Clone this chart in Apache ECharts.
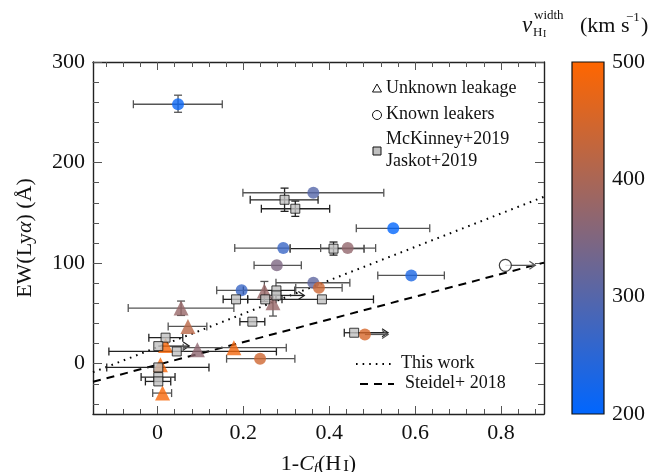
<!DOCTYPE html>
<html>
<head>
<meta charset="utf-8">
<script src="https://cdn.jsdelivr.net/npm/echarts@6/dist/echarts.min.js"></script>
<style>
html,body{margin:0;padding:0;background:#fff;}
#c{width:656px;height:472px;}
</style>
</head>
<body>
<div id="c"></div>
<script>
// ---------- axis ticks ----------
const xMajor = [0, 0.2, 0.4, 0.6, 0.8];
const xMinor = [-0.12,-0.08,-0.04,0.04,0.08,0.12,0.16,0.24,0.28,0.32,0.36,0.44,0.48,0.52,0.56,0.64,0.68,0.72,0.76,0.84,0.88];
const yMajor = [0, 100, 200, 300];
const yMinor = [-40,-20,20,40,60,80,120,140,160,180,220,240,260,280];
const cbarTicks = [200, 300, 400, 500];

// ---------- circles (filled, coloured by v_HI width) ----------
const circX  = [0.048, 0.363, 0.549, 0.293, 0.443, 0.278, 0.591, 0.363, 0.376, 0.196, 0.483, 0.239];
const circY  = [258, 170, 134.6, 115, 115, 97.8, 87.8, 80.5, 75.6, 73, 29.1, 5];
const circV  = [212, 300, 203, 268, 372, 347, 232, 312, 440, 268, 452, 442];
const circXlo = [-0.056, 0.199, 0.463, 0.18, 0.38, 0.225, 0.513, 0.276, 0.322, 0.138, null, 0.161];
const circXhi = [0.151, 0.527, 0.634, 0.309, 0.508, 0.335, 0.668, 0.448, 0.43, 0.25, null, 0.32];
const circYlo = [250, null, null, null, null, null, null, null, null, null, null, null];
const circYhi = [267, null, null, null, null, null, null, null, null, null, null, null];
const circArrow = [null, null, null, null, null, null, null, null, null, null, 0.537, null];

// ---------- triangles (unknown leakage) ----------
const triX  = [0.055, 0.071, 0.093, 0.178, 0.249, 0.269, 0.007, 0.012, 0.019];
const triY  = [55.3, 37.1, 13.9, 15.9, 72.2, 60.7, -1, -29.2, 18.2];
const triV  = [378, 418, 368, 485, 380, 378, 490, 490, 490];
const triXlo = [-0.068, 0.025, null, 0.06, null, null, null, -0.011, null];
const triXhi = [0.178, 0.115, null, 0.30, null, null, null, 0.033, null];
const triYlo = [48, null, null, null, 62, 47.4, null, null, null];
const triYhi = [62.3, null, null, null, 81.8, 68, null, null, null];
const triArrow = [null, null, null, null, null, null, null, null, null];

// ---------- squares (McKinney+2019 / Jaskot+2019) ----------
const sqX  = [0.296, 0.321, 0.41, 0.183, 0.251, 0.277, 0.277, 0.383, 0.221, 0.019, 0.002, 0.045, 0.002, 0.002, 0.002, 0.458];
const sqY  = [163, 154.1, 114.4, 64, 64, 72.9, 67.9, 64, 41.8, 25.9, 17.5, 12.2, -3.7, -13.3, -17.6, 30.8];
const sqXlo = [0.216, 0.242, 0.309, 0.153, 0.21, 0.2, null, 0.276, 0.192, -0.02, null, -0.113, -0.118, -0.038, -0.028, 0.435];
const sqXhi = [0.374, 0.401, 0.481, 0.21, 0.29, 0.32, null, 0.503, 0.25, 0.059, null, 0.277, 0.12, 0.041, 0.031, null];
const sqYlo = [151.5, 146.5, 108, null, null, null, null, null, null, null, null, null, null, null, null, null];
const sqYhi = [174.6, 161.7, 121, null, null, null, null, null, null, null, null, null, null, null, null, null];
const sqArrow = [null, null, null, null, null, null, 0.342, null, null, null, 0.074, null, null, null, null, 0.537];

// ---------- known leaker (open circle) ----------
const leakX = [0.81];
const leakY = [97.8];
const leakArrow = [0.88];

// ---------- relations ----------
const relX = [-0.15, 0.9];
const thisWorkY = [-8.5, 166];
const steidelY = [-18, 100.5];

const SERIF = '"Liberation Serif","DejaVu Serif",serif';
const cLow = '#0066ff', cHigh = '#ff6600';

function errRenderer(xs, ys, xlo, xhi, ylo, yhi, arr, color) {
  return function (params, api) {
    const i = params.dataIndex;
    const ch = [];
    const st = { stroke: color, lineWidth: 1.3 };
    const cap = 4;
    if (xlo[i] != null && xhi[i] != null) {
      const a = api.coord([xlo[i], ys[i]]), b = api.coord([xhi[i], ys[i]]);
      ch.push({ type: 'line', shape: { x1: a[0], y1: a[1], x2: b[0], y2: b[1] }, style: st });
      ch.push({ type: 'line', shape: { x1: a[0], y1: a[1] - cap, x2: a[0], y2: a[1] + cap }, style: st });
      ch.push({ type: 'line', shape: { x1: b[0], y1: b[1] - cap, x2: b[0], y2: b[1] + cap }, style: st });
    } else if (xlo[i] != null) {
      const a = api.coord([xlo[i], ys[i]]), p = api.coord([xs[i], ys[i]]);
      ch.push({ type: 'line', shape: { x1: a[0], y1: a[1], x2: p[0], y2: p[1] }, style: st });
      ch.push({ type: 'line', shape: { x1: a[0], y1: a[1] - cap, x2: a[0], y2: a[1] + cap }, style: st });
    }
    if (ylo[i] != null && yhi[i] != null) {
      const a = api.coord([xs[i], ylo[i]]), b = api.coord([xs[i], yhi[i]]);
      ch.push({ type: 'line', shape: { x1: a[0], y1: a[1], x2: b[0], y2: b[1] }, style: st });
      ch.push({ type: 'line', shape: { x1: a[0] - cap, y1: a[1], x2: a[0] + cap, y2: a[1] }, style: st });
      ch.push({ type: 'line', shape: { x1: b[0] - cap, y1: b[1], x2: b[0] + cap, y2: b[1] }, style: st });
    }
    if (arr[i] != null) {
      const p = api.coord([xs[i], ys[i]]), e = api.coord([arr[i], ys[i]]);
      ch.push({ type: 'line', shape: { x1: p[0], y1: p[1], x2: e[0], y2: e[1] }, style: st });
      ch.push({ type: 'polyline', shape: { points: [[e[0] - 6, e[1] - 4], [e[0], e[1]], [e[0] - 6, e[1] + 4]] }, style: { stroke: color, lineWidth: 1.2, fill: null } });
    }
    return { type: 'group', children: ch };
  };
}

function pts(xs, ys, extra) {
  return xs.map((x, i) => extra ? [x, ys[i], extra[i]] : [x, ys[i]]);
}

const tickStyle = { color: '#555', width: 1 };
const boxLine = { show: true, onZero: false, lineStyle: { color: '#222', width: 1.4 } };
const noLine = { show: false, onZero: false };

const chart = echarts.init(document.getElementById('c'), null, { renderer: 'canvas' });

const option = {
  animation: false,
  backgroundColor: '#fff',
  grid: [
    { left: 93, top: 62, width: 451, height: 352, containLabel: false, outerBoundsMode: 'none' },
    { left: 572, top: 62, width: 32, height: 352, containLabel: false, outerBoundsMode: 'none' }
  ],
  xAxis: [
    { type: 'value', gridIndex: 0, min: -0.15, max: 0.9, position: 'bottom',
      axisLine: boxLine, splitLine: { show: false },
      axisTick: { inside: true, length: 8, customValues: xMajor, lineStyle: tickStyle },
      axisLabel: { customValues: xMajor, fontFamily: SERIF, fontSize: 22, color: '#111', margin: 8,
                   formatter: v => String(v) },
      name: '{n|1-}{i|C}{sub|f}{n|(H}{sc|I}{n|)}', nameLocation: 'middle', nameGap: 35,
      nameTextStyle: { rich: {
        n: { fontFamily: SERIF, fontSize: 22, color: '#111', verticalAlign: 'top', lineHeight: 24 },
        i: { fontFamily: SERIF, fontSize: 22, color: '#111', fontStyle: 'italic', verticalAlign: 'top', lineHeight: 24 },
        sub: { fontFamily: SERIF, fontSize: 15, color: '#111', fontStyle: 'italic', verticalAlign: 'bottom', lineHeight: 15, padding: [13, 0, 0, 0] },
        sc: { fontFamily: SERIF, fontSize: 17, color: '#111', verticalAlign: 'top', lineHeight: 17, padding: [5, 0, 0, 2] }
      } } },
    { type: 'value', gridIndex: 0, min: -0.15, max: 0.9, position: 'bottom',
      axisLine: noLine, splitLine: { show: false }, axisLabel: { show: false },
      axisTick: { inside: true, length: 5, customValues: xMinor, lineStyle: tickStyle } },
    { type: 'value', gridIndex: 0, min: -0.15, max: 0.9, position: 'top',
      axisLine: boxLine, splitLine: { show: false }, axisLabel: { show: false },
      axisTick: { inside: true, length: 8, customValues: xMajor, lineStyle: tickStyle } },
    { type: 'value', gridIndex: 0, min: -0.15, max: 0.9, position: 'top',
      axisLine: noLine, splitLine: { show: false }, axisLabel: { show: false },
      axisTick: { inside: true, length: 5, customValues: xMinor, lineStyle: tickStyle } },
    { type: 'value', gridIndex: 1, min: 0, max: 1, show: false, axisLine: noLine }
  ],
  yAxis: [
    { type: 'value', gridIndex: 0, min: -50, max: 300, position: 'left',
      axisLine: boxLine, splitLine: { show: false },
      axisTick: { inside: true, length: 9, customValues: yMajor, lineStyle: tickStyle },
      axisLabel: { customValues: yMajor, fontFamily: SERIF, fontSize: 22, color: '#111', margin: 8 },
      name: '{n|EW(Ly}{i|α}{n|) (Å)}', nameLocation: 'middle', nameGap: 57,
      nameTextStyle: { rich: {
        n: { fontFamily: SERIF, fontSize: 22, color: '#111' },
        i: { fontFamily: SERIF, fontSize: 22, color: '#111', fontStyle: 'italic' }
      } } },
    { type: 'value', gridIndex: 0, min: -50, max: 300, position: 'left',
      axisLine: noLine, splitLine: { show: false }, axisLabel: { show: false },
      axisTick: { inside: true, length: 6, customValues: yMinor, lineStyle: tickStyle } },
    { type: 'value', gridIndex: 0, min: -50, max: 300, position: 'right',
      axisLine: boxLine, splitLine: { show: false }, axisLabel: { show: false },
      axisTick: { inside: true, length: 9, customValues: yMajor, lineStyle: tickStyle } },
    { type: 'value', gridIndex: 0, min: -50, max: 300, position: 'right',
      axisLine: noLine, splitLine: { show: false }, axisLabel: { show: false },
      axisTick: { inside: true, length: 6, customValues: yMinor, lineStyle: tickStyle } },
    { type: 'value', gridIndex: 1, min: 200, max: 500, interval: 100, position: 'right',
      axisLine: noLine, splitLine: { show: false },
      axisTick: { show: false },
      axisLabel: { customValues: cbarTicks, fontFamily: SERIF, fontSize: 22, color: '#111', margin: 8 } },
    { type: 'value', gridIndex: 1, min: 200, max: 500, position: 'left',
      axisLine: noLine, splitLine: { show: false }, axisLabel: { show: false },
      axisTick: { inside: true, length: 22, customValues: [300, 400], lineStyle: { color: '#999', width: 1, type: [9, 5] } } }
  ],
  visualMap: [{
    type: 'continuous', show: false, min: 200, max: 500, dimension: 2,
    seriesIndex: [6, 7], inRange: { color: [cLow, cHigh] }
  }],
  series: [
    // 0: This work (dotted)
    { type: 'line', xAxisIndex: 0, yAxisIndex: 0, data: pts(relX, thisWorkY), symbol: 'none',
      lineStyle: { color: '#000', width: 2, type: [1.6, 5] }, silent: true, z: 1 },
    // 1: Steidel+2018 (dashed)
    { type: 'line', xAxisIndex: 0, yAxisIndex: 0, data: pts(relX, steidelY), symbol: 'none',
      lineStyle: { color: '#000', width: 2, type: [8, 6] }, silent: true, z: 1 },
    // 2-5: error bars
    { type: 'custom', xAxisIndex: 0, yAxisIndex: 0, data: pts(sqX, sqY), z: 2,
      renderItem: errRenderer(sqX, sqY, sqXlo, sqXhi, sqYlo, sqYhi, sqArrow, '#222') },
    { type: 'custom', xAxisIndex: 0, yAxisIndex: 0, data: pts(circX, circY), z: 2,
      renderItem: errRenderer(circX, circY, circXlo, circXhi, circYlo, circYhi, circArrow, '#555') },
    { type: 'custom', xAxisIndex: 0, yAxisIndex: 0, data: pts(triX, triY), z: 2,
      renderItem: errRenderer(triX, triY, triXlo, triXhi, triYlo, triYhi, triArrow, '#555') },
    { type: 'custom', xAxisIndex: 0, yAxisIndex: 0, data: pts(leakX, leakY), z: 2,
      renderItem: errRenderer(leakX, leakY, [null], [null], [null], [null], leakArrow, '#555') },
    // 6: circles
    { type: 'scatter', xAxisIndex: 0, yAxisIndex: 0, data: pts(circX, circY, circV),
      symbol: 'circle', symbolSize: 12, z: 4 },
    // 7: triangles
    { type: 'scatter', xAxisIndex: 0, yAxisIndex: 0, data: pts(triX, triY, triV),
      symbol: 'triangle', symbolSize: 15, z: 4 },
    // 8: squares
    { type: 'scatter', xAxisIndex: 0, yAxisIndex: 0, data: pts(sqX, sqY),
      symbol: 'rect', symbolSize: 9, itemStyle: { color: '#c0c0c0', borderColor: '#111', borderWidth: 1 }, z: 5 },
    // 9: known leaker
    { type: 'scatter', xAxisIndex: 0, yAxisIndex: 0, data: pts(leakX, leakY),
      symbol: 'circle', symbolSize: 12, itemStyle: { color: '#fff', borderColor: '#111', borderWidth: 1.2 }, z: 5 },
    // 10: colour bar
    { type: 'custom', xAxisIndex: 4, yAxisIndex: 4, data: [[0, 200, 500]], z: 1,
      renderItem: function (params, api) {
        const a = api.coord([0, api.value(2)]), b = api.coord([1, api.value(1)]);
        return { type: 'rect', shape: { x: a[0], y: a[1], width: b[0] - a[0], height: b[1] - a[1] },
          style: { fill: new echarts.graphic.LinearGradient(0, 0, 0, 1, [
            { offset: 0, color: cHigh }, { offset: 1, color: cLow }]), stroke: '#111', lineWidth: 1.2 } };
      } }
  ],
  graphic: [
    // legend (upper right)
    { type: 'polygon', shape: { points: [[377, 84], [381.5, 92], [372.5, 92]] }, style: { fill: '#fff', stroke: '#111', lineWidth: 1 } },
    { type: 'text', left: 386, top: 79, style: { text: 'Unknown leakage', font: '18px ' + SERIF, fill: '#111' } },
    { type: 'circle', shape: { cx: 377, cy: 115, r: 4.5 }, style: { fill: '#fff', stroke: '#111', lineWidth: 1 } },
    { type: 'text', left: 386, top: 105, style: { text: 'Known leakers', font: '18px ' + SERIF, fill: '#111' } },
    { type: 'rect', shape: { x: 373, y: 147, width: 8, height: 8 }, style: { fill: '#c0c0c0', stroke: '#111', lineWidth: 1 } },
    { type: 'text', left: 386, top: 130, style: { text: 'McKinney+2019', font: '18px ' + SERIF, fill: '#111' } },
    { type: 'text', left: 386, top: 152, style: { text: 'Jaskot+2019', font: '18px ' + SERIF, fill: '#111' } },
    // legend (lower right)
    { type: 'line', shape: { x1: 356, y1: 364, x2: 394, y2: 364 }, style: { stroke: '#000', lineWidth: 2, lineDash: [1.6, 5] } },
    { type: 'text', left: 401, top: 354, style: { text: 'This work', font: '18px ' + SERIF, fill: '#111' } },
    { type: 'line', shape: { x1: 360, y1: 384, x2: 394, y2: 384 }, style: { stroke: '#000', lineWidth: 2, lineDash: [8, 6] } },
    { type: 'text', left: 405, top: 374, style: { text: 'Steidel+ 2018', font: '18px ' + SERIF, fill: '#111' } },
    // colour bar title
    { type: 'text', left: 522, top: 14, style: { text: 'v', font: 'italic 23px ' + SERIF, fill: '#111' } },
    { type: 'text', left: 534, top: 9, style: { text: 'width', font: '13px ' + SERIF, fill: '#111' } },
    { type: 'text', left: 533, top: 26, style: { text: 'H', font: '13px ' + SERIF, fill: '#111' } },
    { type: 'text', left: 543, top: 29, style: { text: 'I', font: '10px ' + SERIF, fill: '#111' } },
    { type: 'text', left: 580, top: 15, style: { text: '(km s', font: '22px ' + SERIF, fill: '#111' } },
    { type: 'text', left: 626, top: 11, style: { text: '\u22121', font: '13px ' + SERIF, fill: '#111' } },
    { type: 'text', left: 641, top: 15, style: { text: ')', font: '22px ' + SERIF, fill: '#111' } }
  ]
};

chart.setOption(option);
</script>
</body>
</html>
